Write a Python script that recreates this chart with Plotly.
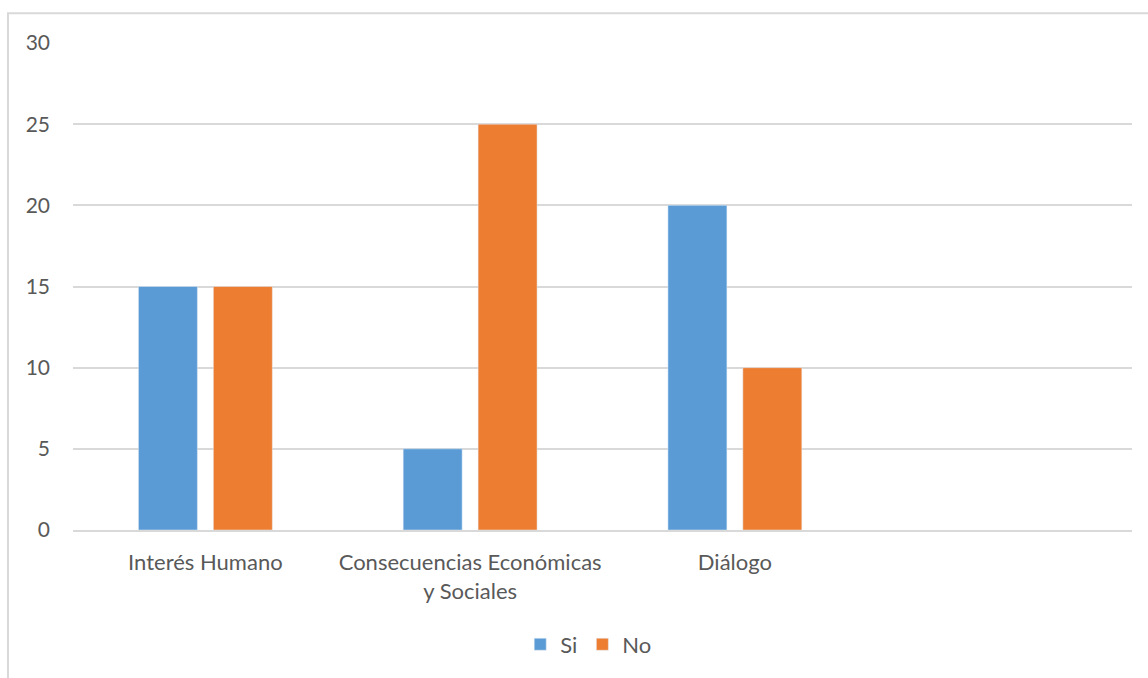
import plotly.graph_objects as go

categories = ["Interés Humano", "Consecuencias Económicas<br>y Sociales", "Diálogo", " "]
si_values = [15, 5, 20, None]
no_values = [15, 25, 10, None]
y_ticks = [0, 5, 10, 15, 20, 25, 30]

FONT = "Lato"
TXT = "#595959"

fig = go.Figure()
fig.add_trace(go.Bar(name="Si", x=categories, y=si_values, marker_color="#5B9BD5"))
fig.add_trace(go.Bar(name="No", x=categories, y=no_values, marker_color="#ED7D31"))

fig.update_layout(
    width=1148, height=678,
    margin=dict(l=73, r=16, t=43, b=146),
    paper_bgcolor="white", plot_bgcolor="white",
    barmode="group", bargap=0.434, bargroupgap=0.213,
    font=dict(family=FONT, size=22, color=TXT),
    showlegend=True,
    legend=dict(orientation="h", x=0.487, xanchor="center", y=-0.235, yanchor="middle",
                font=dict(size=22, color=TXT), itemwidth=30, traceorder="normal"),
    xaxis=dict(type="category", categoryorder="array", categoryarray=categories,
               range=[-0.5, 3.5], showgrid=False, showline=True, linecolor="#d9d9d9",
               linewidth=2, ticks="", ticklabelstandoff=12, tickfont=dict(size=22, color=TXT),
               fixedrange=True),
    yaxis=dict(range=[0, 30], tickvals=y_ticks, showgrid=True, gridcolor="#d9d9d9",
               gridwidth=1.5, zeroline=False, showline=False, ticks="",
               ticklabelstandoff=22, tickfont=dict(size=21, color=TXT), fixedrange=True),
)

fig.add_shape(type="rect", xref="paper", yref="paper", x0=-0.0614, x1=1.2, y0=-0.5, y1=1.0613,
              line=dict(color="#d9d9d9", width=2), fillcolor="rgba(0,0,0,0)", layer="below")

fig.write_html("out.html", config={"displayModeBar": False},
               post_script="document.body.style.margin='0';document.body.style.overflow='hidden';")
